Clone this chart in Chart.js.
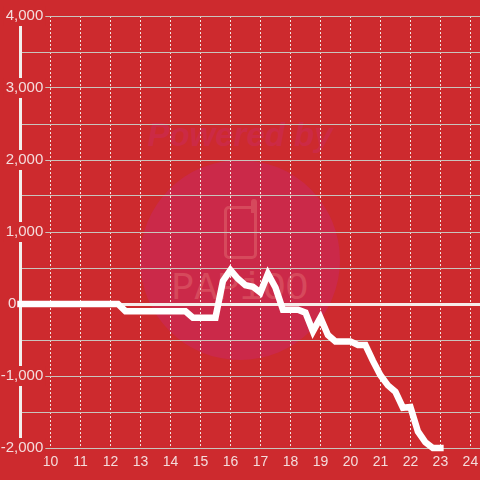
<!DOCTYPE html>
<html><head><meta charset="utf-8">
<style>
html,body{margin:0;padding:0;background:#cd2a2e;width:480px;height:480px;overflow:hidden}
#wrap{position:relative;width:480px;height:480px}
#circle{position:absolute;left:140px;top:160px;width:200px;height:200px;border-radius:50%;background:#cb2949}
#powered{position:absolute;left:140px;top:116px;width:200px;display:flex;justify-content:center;font:italic bold 33px "Liberation Sans";color:#cc2a45;white-space:nowrap}
#phone{position:absolute;left:224px;top:206px;width:33px;height:53px;box-sizing:border-box;border:3px solid #d6495c;border-radius:5px}
#ear{position:absolute;left:251px;top:199px;width:6px;height:14px;background:#d6495c;border-radius:3px 3px 0 0}
#brand{position:absolute;left:140px;top:267px;width:200px;display:flex;justify-content:center;font:38px "Liberation Mono";color:#d6495c;white-space:nowrap}
canvas{position:absolute;left:0;top:0}
</style></head><body>
<div id="wrap">
<div id="circle"></div><div id="powered">Powered by</div><div id="phone"></div><div id="ear"></div><div id="brand">PAPiOO</div>
<canvas id="c" width="480" height="480"></canvas>
</div>
<script src="https://cdn.jsdelivr.net/npm/chart.js@4"></script>
<script>
const hours = [9,9.25,9.5,9.75,10,10.25,10.5,10.75,11,11.25,11.5,11.75,12,12.25,12.5,12.75,13,13.25,13.5,13.75,14,14.25,14.5,14.75,15,15.25,15.5,15.75,16,16.25,16.5,16.75,17,17.25,17.5,17.75,18,18.25,18.5,18.75,19,19.25,19.5,19.75,20,20.25,20.5,20.75,21,21.25,21.5,21.75,22,22.25,22.5,22.75,23];
const values = [0,0,0,0,0,0,0,0,0,0,0,0,0,0,-100,-100,-100,-100,-100,-100,-100,-100,-100,-190,-190,-190,-190,320,470,350,260,240,160,420,230,-80,-80,-80,-120,-380,-190,-430,-520,-520,-520,-570,-570,-790,-990,-1130,-1220,-1440,-1430,-1770,-1920,-2000,-2000];
const labelColor = '#f4dcdc', gridColor = '#c9c4bd', bg = '#cd2a2e';
const tickFont = {family:'Liberation Sans',size:14};
const yFont = {family:'Liberation Sans',size:15};
const noPad = s => { s.paddingTop = 0; s.paddingBottom = 0; s.paddingLeft = 0; s.paddingRight = 0; };
new Chart(document.getElementById('c'), {
  type: 'line',
  data: { datasets: [{ data: hours.map((h,i)=>({x:h,y:values[i]})), borderColor:'#ffffff', borderWidth:6.5, borderCapStyle:'square', borderJoinStyle:'miter', pointRadius:0, tension:0, clip:false, fill:false }] },
  options: {
    responsive:false, animation:false, devicePixelRatio:1,
    layout:{ padding:{left:20.5, top:16, right:0, bottom:0} },
    plugins:{ legend:{display:false}, tooltip:{enabled:false} },
    scales:{
      x:{ type:'linear', position:'bottom', min:9, max:24.32,
        afterFit(s){ s.height = 32; noPad(s); },
        border:{display:false, dash:[2,2]},
        grid:{ color:c=>c.tick && c.tick.value<10 ? 'rgba(0,0,0,0)' : '#f2e4e0', lineWidth:1, drawTicks:false },
        ticks:{ stepSize:1, includeBounds:false, autoSkip:false, maxRotation:0, padding:6, color:labelColor, font:tickFont, callback:v=>v<10?'':String(v) }
      },
      y:{ type:'linear', position:{x:9}, min:-2000, max:4000, afterFit:noPad,
        border:{display:true, color:'#f3f0ee', width:3},
        grid:{ color:c=>c.tick && c.tick.value===0 ? '#f6ecea' : gridColor, lineWidth:c=>c.tick && c.tick.value===0 ? 3 : 1, drawTicks:false },
        ticks:{ stepSize:500, color:labelColor, font:yFont, callback:v=>v===0 ? '0 ' : '' }
      },
      yLabels:{ type:'linear', position:{x:9.76}, min:-2000, max:4000, afterFit:noPad,
        border:{display:false}, grid:{display:false, drawTicks:false},
        ticks:{ stepSize:1000, color:labelColor, font:yFont, showLabelBackdrop:true,
          backdropColor:c=>c.tick && c.tick.value!==0 ? bg : 'rgba(0,0,0,0)', backdropPadding:{x:2,y:1},
          callback:v=>v===0 ? '' : v.toLocaleString('en-US') }
      }
    }
  }
});
</script>
</body></html>
